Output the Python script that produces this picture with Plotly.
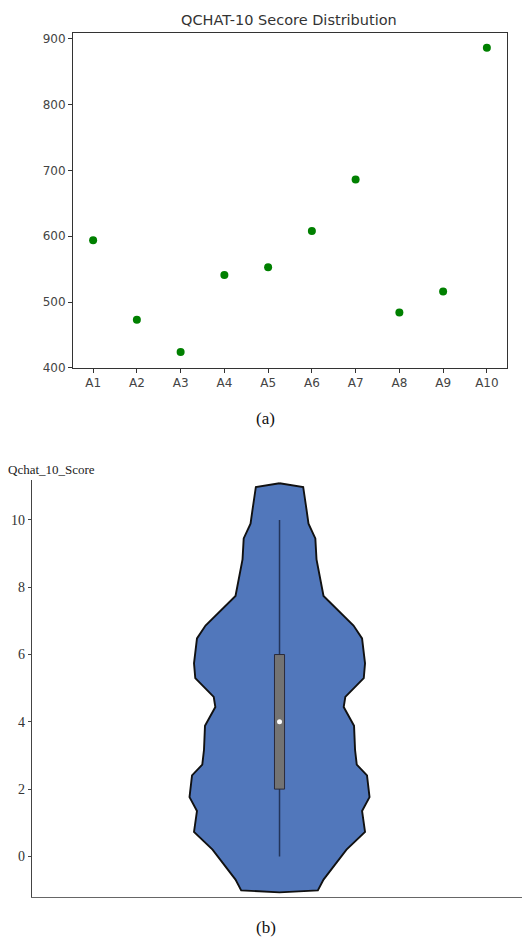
import plotly.graph_objects as go

# ---------------- data ----------------
categories = ["A1", "A2", "A3", "A4", "A5", "A6", "A7", "A8", "A9", "A10"]
scores = [594, 473, 424, 541, 553, 608, 686, 484, 516, 886]

# violin outline: score level and relative density (half width, max ~1)
violin_levels = [11.09, 10.98, 10.31, 9.89, 9.45, 8.83, 7.74, 6.86, 6.48, 5.74, 5.30,
                 4.74, 4.44, 3.88, 3.17, 2.73, 2.41, 1.76, 1.35, 0.73, 0.20, -0.69,
                 -1.01, -1.07]
violin_density = [0.0, 0.263, 0.300, 0.322, 0.398, 0.411, 0.489, 0.822, 0.917, 0.950,
                  0.936, 0.731, 0.713, 0.828, 0.839, 0.858, 0.972, 1.0, 0.917, 0.950,
                  0.744, 0.489, 0.426, 0.0]
box_q1, box_median, box_q3 = 2, 4, 6
whisker_low, whisker_high = 0, 10

W, H = 522, 944
BOX_HALF = 0.056


def fx(px):
    return px / W


def fy(py):
    return 1 - py / H


fig = go.Figure()

# ---- panel (a): scatter ----
fig.add_trace(go.Scatter(
    x=categories, y=scores, mode="markers",
    marker=dict(color="#008000", size=8, line=dict(width=0)),
    xaxis="x", yaxis="y", showlegend=False))

# ---- panel (b): violin ----
vx = [-d for d in violin_density] + [d for d in reversed(violin_density)]
vy = list(violin_levels) + list(reversed(violin_levels))
fig.add_trace(go.Scatter(
    x=vx, y=vy, mode="lines", fill="toself", fillcolor="#5177bb",
    line=dict(color="#111111", width=1.9), xaxis="x2", yaxis="y2", showlegend=False))
fig.add_trace(go.Scatter(
    x=[0, 0], y=[whisker_low, whisker_high], mode="lines",
    line=dict(color="#22345a", width=1.5), xaxis="x2", yaxis="y2", showlegend=False))
fig.add_trace(go.Scatter(
    x=[-BOX_HALF, BOX_HALF, BOX_HALF, -BOX_HALF, -BOX_HALF],
    y=[box_q1, box_q1, box_q3, box_q3, box_q1], mode="lines", fill="toself",
    fillcolor="#737373", line=dict(color="#2a2a3a", width=1),
    xaxis="x2", yaxis="y2", showlegend=False))
fig.add_trace(go.Scatter(
    x=[0], y=[box_median], mode="markers",
    marker=dict(color="white", size=5, line=dict(width=0)),
    xaxis="x2", yaxis="y2", showlegend=False))

tickfont_a = dict(family="DejaVu Sans", size=12, color="#444444")
tickfont_b = dict(family="Liberation Serif", size=14, color="#333333")

fig.update_layout(
    width=W, height=H, margin=dict(l=0, r=0, t=0, b=0),
    paper_bgcolor="white", plot_bgcolor="white",
    xaxis=dict(domain=[fx(73), fx(507)], type="category", range=[-0.46, 9.46],
               showline=True, mirror=True, linecolor="#333333", linewidth=1,
               ticks="outside", ticklen=4, tickcolor="#333333", tickfont=tickfont_a,
               showgrid=False, zeroline=False, anchor="y"),
    yaxis=dict(domain=[fy(370), fy(32)], range=[400, 909],
               tickvals=[400, 500, 600, 700, 800, 900],
               showline=True, mirror=True, linecolor="#333333", linewidth=1,
               ticks="outside", ticklen=4, tickcolor="#333333", tickfont=tickfont_a,
               showgrid=False, zeroline=False, anchor="x"),
    xaxis2=dict(domain=[fx(32), 1.0], range=[-2.75, 2.694],
                showline=True, linecolor="#666666", linewidth=1.4,
                showticklabels=False, ticks="", showgrid=False, zeroline=False,
                anchor="y2"),
    yaxis2=dict(domain=[fy(904), fy(483)], range=[-1.217, 11.19],
                tickvals=[0, 2, 4, 6, 8, 10],
                showline=True, linecolor="#444444", linewidth=1.4,
                ticks="outside", ticklen=3, tickcolor="#444444", tickfont=tickfont_b,
                showgrid=False, zeroline=False, anchor="x2"),
)

fig.add_annotation(text="QCHAT-10 Secore Distribution", x=fx(289), y=fy(19),
                   xref="paper", yref="paper", showarrow=False,
                   font=dict(family="DejaVu Sans", size=14.5, color="#333333"),
                   xanchor="center", yanchor="middle")
fig.add_annotation(text="(a)", x=fx(265), y=fy(421), xref="paper", yref="paper",
                   showarrow=False, font=dict(family="Liberation Serif", size=17, color="#111111"),
                   xanchor="center", yanchor="middle")
fig.add_annotation(text="(b)", x=fx(266), y=fy(934), xref="paper", yref="paper",
                   showarrow=False, font=dict(family="Liberation Serif", size=17, color="#111111"),
                   xanchor="center", yanchor="middle")
fig.add_annotation(text="Qchat_10_Score", x=fx(6), y=fy(473), xref="paper", yref="paper",
                   showarrow=False, font=dict(family="Liberation Serif", size=13, color="#222222"),
                   xanchor="left", yanchor="middle")

fig.write_html("out.html", config={"displayModeBar": False},
               post_script="document.body.style.margin='0px';document.body.style.overflow='hidden';")
